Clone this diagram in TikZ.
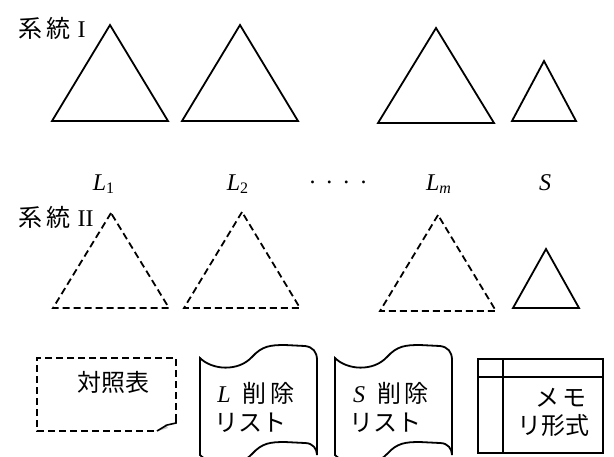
\documentclass[tikz,border=0pt]{standalone}
\usepackage{fontspec}
\setmainfont{Liberation Serif}
\newfontfamily\jp{Noto Sans CJK JP}
\usetikzlibrary{positioning}

\begin{document}
\begin{tikzpicture}[
  x=0.5pt,y=-0.5pt,
  tri/.style={line width=0.9pt,line join=miter},
  dtri/.style={tri,dash pattern=on 3.5pt off 2pt},
  lbl/.style={font=\fontsize{12}{14}\selectfont,inner sep=0pt},
  jlbl/.style={font=\fontsize{12}{14}\selectfont\jp,inner sep=0pt},
  box/.style={line width=0.9pt}
]
\useasboundingbox (0,0) rectangle (614,456);
\clip (0,0) rectangle (614,456);

% system I
\node[jlbl] (sysA) at (52,28) {系\hspace{2pt}統\hspace{3.5pt}{\rmfamily I}};
\foreach \ax/\ay/\w/\h in {110/25/58/96, 240/25/58/96, 436/28/58/95, 544/61/32/60}
  \draw[tri] (\ax,\ay) -- ++(-\w,\h) -- ++(2*\w,0) -- cycle;

% labels
\node[lbl] (lone) at (104,184) {\textit{L}\textsubscript{1}};
\node[lbl] (ltwo) at (238,184) {\textit{L}\textsubscript{2}};
\node[lbl] (dots) at (338,182) {.\hspace{5.5pt}.\hspace{5.5pt}.\hspace{5.5pt}.};
\node[lbl] (lm) at (439,184) {\textit{L}\textsubscript{\textit{m}}};
\node[lbl] (ls) at (545,183) {\textit{S}};

% system II
\node[jlbl] (sysB) at (56,217) {系\hspace{2pt}統\hspace{3.5pt}{\rmfamily II}};
\foreach \ax/\ay/\w/\h in {111/213/58/95, 242/212/58/96, 438/215/58/96}
  \draw[dtri] (\ax,\ay) -- ++(-\w,\h) -- ++(2*\w,0) -- cycle;
\draw[tri] (546,249) -- ++(-33,59) -- ++(66,0) -- cycle;

% table
\draw[box,dash pattern=on 3.5pt off 2pt] (176,421) -- (176,358) -- (37,358) -- (37,431) -- (157,431);
\fill[gray!45] (158,431) -- (166,424) -- (168,428) -- cycle;
\draw[line width=0.8pt] (176,419) -- (176,423) -- (167,425) -- (157,431);
\node[jlbl] (tbl) at (113,382) {対照表};

% lists
\foreach \dx in {0,135}
  \draw[box,shift={(\dx,0)}] (200,358) .. controls (212,370) and (238,372) .. (252,357)
    .. controls (262,346) and (270,345) .. (285,345) -- (305,346)
    .. controls (313,347) and (317,352) .. (317,360) -- (317,455)
    .. controls (317,449) and (313,443) .. (305,443) -- (285,442)
    .. controls (270,442) and (262,443) .. (252,454)
    .. controls (238,469) and (212,467) .. (200,455) -- cycle;
\node[jlbl] (ldel) at (256,393) {{\rmfamily\itshape L}\hspace{6pt}削\hspace{2pt}除};
\node[jlbl] (llist) at (250,423) {リスト};
\node[jlbl] (sdel) at (391,393) {{\rmfamily\itshape S}\hspace{6pt}削\hspace{2pt}除};
\node[jlbl] (slist) at (385,423) {リスト};

% memo
\draw[box] (478,359) rectangle (603,453);
\draw[box] (478,377) -- (603,377);
\draw[box] (503,359) -- (503,453);
\node[jlbl] (memo) at (561,398) {メ\hspace{2pt}モ};
\node[jlbl] (memob) at (553,425) {リ形式};
\end{tikzpicture}
\end{document}
